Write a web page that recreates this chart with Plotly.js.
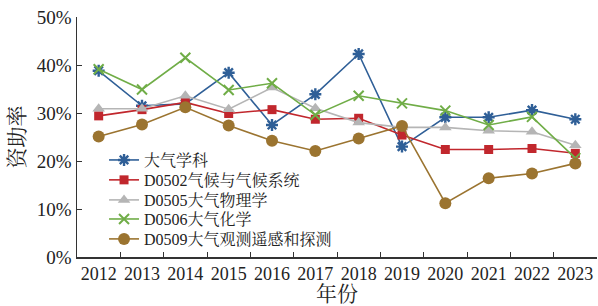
<!DOCTYPE html>
<html><head><meta charset="utf-8">
<script src="https://cdn.plot.ly/plotly-3.0.1.min.js"></script>
<style>body{margin:0;background:#fff}#c{width:598px;height:306px}</style>
</head><body><div id="c"></div>
<script>
const years = ['2012','2013','2014','2015','2016','2017','2018','2019','2020','2021','2022','2023'];
const names = ['大气学科','D0502气候与气候系统','D0505大气物理学','D0506大气化学','D0509大气观测遥感和探测'];
const atmos = [0.388,0.315,0.319,0.384,0.275,0.339,0.423,0.230,0.291,0.291,0.306,0.287];
const d0502 = [0.294,0.307,0.322,0.299,0.307,0.287,0.289,0.254,0.224,0.224,0.226,0.216];
const d0505 = [0.309,0.309,0.336,0.308,0.353,0.310,0.280,0.270,0.270,0.263,0.261,0.233];
const d0506 = [0.391,0.349,0.415,0.348,0.362,0.296,0.336,0.320,0.305,0.275,0.292,0.206];
const d0509 = [0.251,0.276,0.312,0.274,0.242,0.221,0.247,0.273,0.112,0.164,0.174,0.195];

const colors = ['#2f5f97','#c1272d','#b5b5b5','#70ad47','#9b7430'];
const symbols = ['asterisk-open','square','triangle-up','x-thin-open','circle'];
const sizes = [10,9,11,10,12];
const series = [atmos,d0502,d0505,d0506,d0509];
const FONT = 'Liberation Serif, Times New Roman, Noto Serif CJK SC, Noto Sans CJK SC, serif';
const legendIds = ['legend','legend2','legend3','legend4','legend5'];
const legendY = [0.404,0.321,0.2375,0.158,0.075];

const traces = series.map((s,i)=>({
  x: years, y: s, name: names[i], type:'scatter', mode:'lines+markers', legend: legendIds[i],
  line:{color:colors[i], width:1.6},
  marker:{symbol:symbols[i], size:sizes[i], color:colors[i], line:{color:colors[i], width:(i===0)?2.4:(i===3?2:0)}},
  cliponaxis:false
}));

const layout = {
  width:598, height:306,
  margin:{l:77, r:1, t:17, b:49},
  paper_bgcolor:'#fff', plot_bgcolor:'#fff',
  font:{family:FONT, color:'#222', size:18},
  showlegend:true,
  xaxis:{type:'category', range:[-0.5,11.5], tickson:'boundaries', ticks:'inside', ticklen:5, tickangle:0,
    tickcolor:'#333', showline:true, linecolor:'#333', linewidth:1.5, showgrid:false, zeroline:false,
    tickfont:{family:FONT, size:18, color:'#222'},
    title:{text:'年份', font:{family:FONT, size:21, color:'#222'}, standoff:5}},
  yaxis:{range:[0,0.5], dtick:0.1, tickformat:'.0%', ticks:'inside', ticklen:5,
    tickcolor:'#333', showline:true, linecolor:'#333', linewidth:1.5, showgrid:false, zeroline:false,
    tickfont:{family:FONT, size:19, color:'#222'},
    title:{text:'资助率', font:{family:FONT, size:21, color:'#222'}, standoff:6}}
};
legendIds.forEach((id,i)=>{
  layout[id] = {x:0.052, y:legendY[i], xanchor:'left', yanchor:'middle', bgcolor:'rgba(0,0,0,0)',
    font:{family:FONT, size:16, color:'#222'}};
});
Plotly.newPlot('c', traces, layout, {displayModeBar:false, staticPlot:true});
</script></body></html>
